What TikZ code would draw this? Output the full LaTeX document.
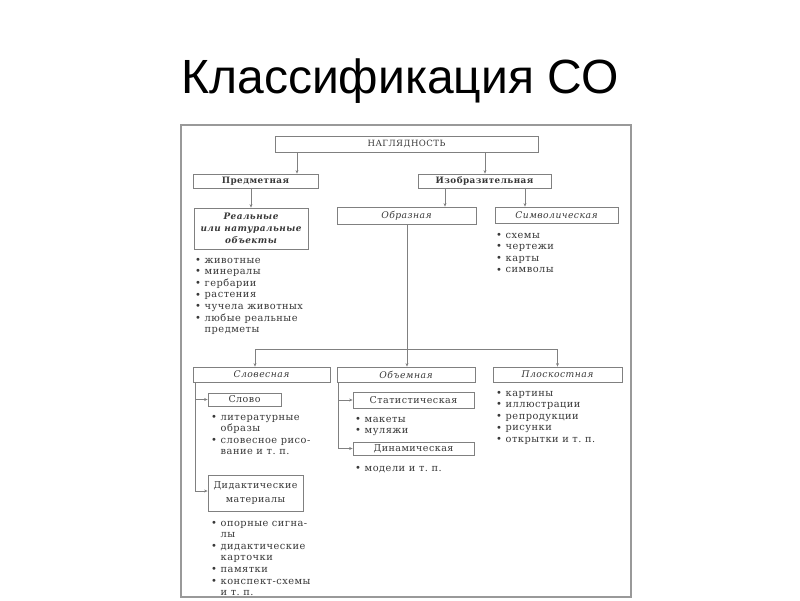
\documentclass[tikz,border=0pt]{standalone}
\usepackage{fontspec}
\setmainfont{DejaVu Serif}[LetterSpace=5]
\newfontfamily\titlefont{Liberation Sans}
\usetikzlibrary{arrows.meta}
\definecolor{ink}{gray}{0.22}
\definecolor{rulec}{gray}{0.5}
\definecolor{framec}{gray}{0.6}
\newcommand\bu{\makebox[9.5pt][l]{\fontsize{10}{10}\selectfont\raisebox{-0.2pt}{•}}}
\newcommand\blist[1]{\begin{tabular}[t]{@{}l@{}l@{}}#1\end{tabular}}
\tikzset{
  box/.style={draw=rulec, line width=0.8pt, inner sep=0pt, text=ink, align=center},
  hd/.style={font=\fontsize{8.8}{12}\selectfont\bfseries},
  it/.style={font=\fontsize{9.2}{12}\selectfont\itshape},
  rg/.style={font=\fontsize{9.5}{14}\selectfont},
  arr/.style={draw=rulec, line width=0.7pt, -{Stealth[length=3.5pt,width=3pt]}},
  ln/.style={draw=rulec, line width=0.7pt},
  lst/.style={inner sep=0pt, text=ink, anchor=base west, font=\fontsize{9.8}{11.6}\selectfont},
}
\begin{document}
\begin{tikzpicture}[x=1pt,y=-1pt]
\useasboundingbox (0,0) rectangle (800,600);
\node[font=\titlefont\fontsize{48}{48}\selectfont, anchor=base, inner sep=0pt] (title) at (400,93) {Классификация СО};
\node[draw=framec, line width=1.3pt, minimum width=450, minimum height=472, inner sep=0pt] (frame) at (406,361) {};
% boxes
\node[box, minimum width=263, minimum height=16, font=\fontsize{8.6}{9}\selectfont] (nagl) at (406.5,144) {НАГЛЯДНОСТЬ};
\node[box, hd, minimum width=125, minimum height=14] (pred) at (255.5,181) {Предметная};
\node[box, hd, minimum width=133, minimum height=14] (izob) at (484.5,181) {Изобразительная};
\node[box, minimum width=114, minimum height=41, font=\fontsize{8.9}{12}\selectfont\bfseries\itshape] (real) at (251,228.5) {Реальные\\или натуральные\\объекты};
\node[box, it, minimum width=139, minimum height=17] (obraz) at (406.5,215.5) {Образная};
\node[box, it, minimum width=123, minimum height=16] (simv) at (556.5,215) {Символическая};
\node[box, it, minimum width=137, minimum height=15] (slov) at (261.5,374.5) {Словесная};
\node[box, it, minimum width=138, minimum height=15] (obem) at (406,374.5) {Объемная};
\node[box, it, minimum width=129, minimum height=15] (plosk) at (557.5,374.5) {Плоскостная};
\node[box, rg, minimum width=73, minimum height=13] (slovo) at (244.5,399.5) {Слово};
\node[box, rg, minimum width=95, minimum height=36] (didakt) at (255.5,493) {Дидактические\\материалы};
\node[box, rg, minimum width=121, minimum height=16] (stat) at (413.5,400) {Статистическая};
\node[box, rg, minimum width=121, minimum height=13] (dinam) at (413.5,448.5) {Динамическая};
% connectors
\draw[arr] (nagl.south -| 297,0) -- (pred.north -| 297,0);
\draw[arr] (nagl.south -| 485,0) -- (izob.north -| 485,0);
\draw[arr] (pred.south -| real.north) -- (real.north);
\draw[arr] (izob.south -| 445,0) -- (obraz.north -| 445,0);
\draw[arr] (izob.south -| 525,0) -- (simv.north -| 525,0);
\coordinate (hub) at (407,349);
\draw[ln] (obraz.south -| hub) -- (hub);
\draw[arr] (hub) -| (slov.north -| 255,0);
\draw[arr] (hub) -- (obem.north -| hub);
\draw[arr] (hub) -| (plosk.north);
\draw[ln] (slov.south -| 195,0) -- (195,491);
\draw[arr] (195,399.5) -- (slovo.west);
\draw[arr] (195,491) -- (didakt.west |- 0,491);
\draw[ln] (obem.south -| 338,0) -- (338,448.5);
\draw[arr] (338,400) -- (stat.west);
\draw[arr] (338,448.5) -- (dinam.west);
% lists
\node[lst] (realL) at (195,263) {\blist{\bu & животные\\ \bu & минералы\\ \bu & гербарии\\ \bu & растения\\ \bu & чучела животных\\ \bu & любые реальные\\ & предметы}};
\node[lst] (simvL) at (496,238) {\blist{\bu & схемы\\ \bu & чертежи\\ \bu & карты\\ \bu & символы}};
\node[lst] (slovoL) at (211,420) {\blist{\bu & литературные\\ & образы\\ \bu & словесное рисо-\\ & вание и т.~п.}};
\node[lst] (didL) at (211,526) {\blist{\bu & опорные сигна-\\ & лы\\ \bu & дидактические\\ & карточки\\ \bu & памятки\\ \bu & конспект-схемы\\ & и т.~п.}};
\node[lst] (statL) at (355,422) {\blist{\bu & макеты\\ \bu & муляжи}};
\node[lst] (dinamL) at (355,471) {\blist{\bu & модели и т.~п.}};
\node[lst] (ploskL) at (496,396) {\blist{\bu & картины\\ \bu & иллюстрации\\ \bu & репродукции\\ \bu & рисунки\\ \bu & открытки и т.~п.}};
\end{tikzpicture}
\end{document}
